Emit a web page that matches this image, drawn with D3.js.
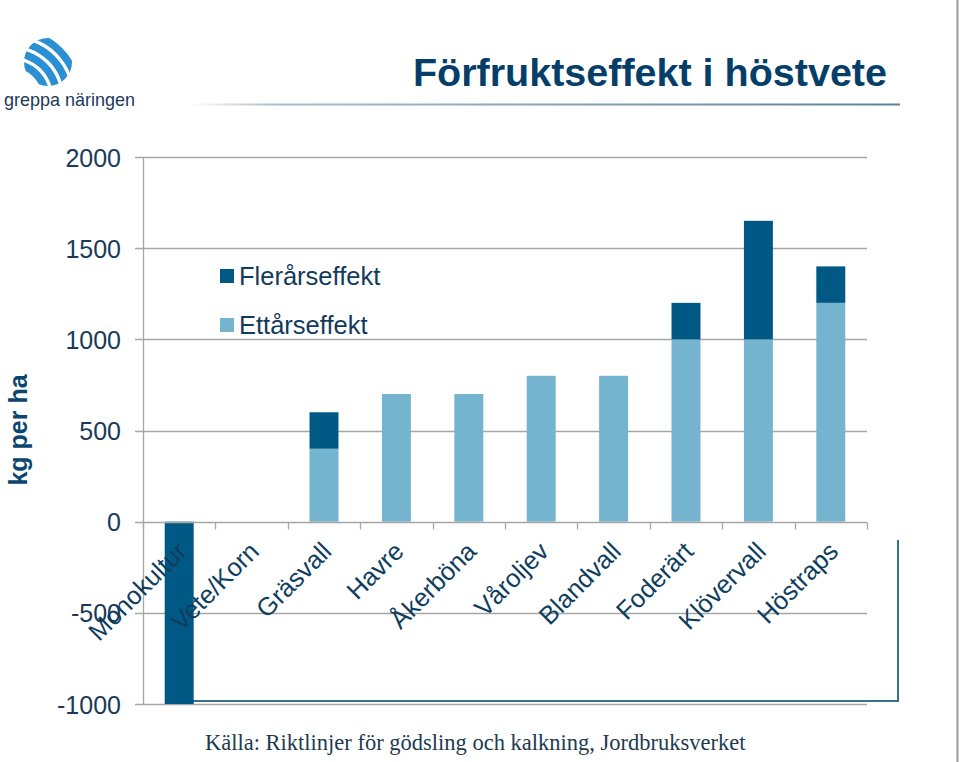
<!DOCTYPE html>
<html>
<head>
<meta charset="utf-8">
<script src="https://cdn.jsdelivr.net/npm/d3@7"></script>
<style>
  html, body { margin: 0; padding: 0; background: #ffffff; }
  svg { display: block; }
</style>
</head>
<body>
<svg id="chart" width="959" height="762"></svg>
<script>
// ---- data ----
const categories = ["Monokultur", "Vete/Korn", "Gräsvall", "Havre", "Åkerböna", "Våroljev", "Blandvall", "Foderärt", "Klövervall", "Höstraps"];
const ettarseffekt = [0, 0, 400, 700, 700, 800, 800, 1000, 1000, 1200];
const flerarseffekt = [-1000, 0, 200, 0, 0, 0, 0, 200, 650, 200];
const seriesNames = ["Ettårseffekt", "Flerårseffekt"];
const legendOrder = ["Flerårseffekt", "Ettårseffekt"];
const yTicks = [-1000, -500, 0, 500, 1000, 1500, 2000];
const yTickLabels = ["-1000", "-500", "0", "500", "1000", "1500", "2000"];
const titleText = "Förfruktseffekt i höstvete";
const yAxisTitle = "kg per ha";
const sourceText = "Källa: Riktlinjer för gödsling och kalkning, Jordbruksverket";
const logoText = "greppa näringen";

const colors = { "Ettårseffekt": "#74b4ce", "Flerårseffekt": "#005985" };

const svg = d3.select("#chart");

// ---- layout ----
const plotLeft = 143, plotRight = 867, plotTop = 157, plotBottom = 704;

const x = d3.scaleBand().domain(categories).range([plotLeft, plotRight]).paddingInner(0.6).paddingOuter(0.3);
const y = d3.scaleLinear().domain([-1000, 2000]).range([plotBottom, plotTop]);

const rows = categories.map((c, i) => ({ cat: c, "Ettårseffekt": ettarseffekt[i], "Flerårseffekt": flerarseffekt[i] }));
const stacked = d3.stack().keys(seriesNames).offset(d3.stackOffsetDiverging)(rows);

// ---- logo ----
const defs = svg.append("defs");
defs.append("clipPath").attr("id", "logoClip")
  .append("circle").attr("cx", 48).attr("cy", 62).attr("r", 24);
const grad = defs.append("linearGradient").attr("id", "ulGrad").attr("x1", "0").attr("x2", "1").attr("y1", "0").attr("y2", "0");
grad.append("stop").attr("offset", "0").attr("stop-color", "#6f8fa8").attr("stop-opacity", 0);
grad.append("stop").attr("offset", "0.12").attr("stop-color", "#6f8fa8").attr("stop-opacity", 0.6);
grad.append("stop").attr("offset", "1").attr("stop-color", "#5f8199").attr("stop-opacity", 1);

const logoG = svg.append("g").attr("clip-path", "url(#logoClip)");
const arcGen = d3.arc();
[34, 45, 56, 67].forEach(r => {
  logoG.append("path")
    .attr("transform", "translate(12,98)")
    .attr("d", arcGen({ innerRadius: r - 3.8, outerRadius: r + 3.8, startAngle: -0.1, endAngle: Math.PI / 2 + 0.1 }))
    .attr("fill", "#2a8fd3");
});
svg.append("text").attr("x", 4).attr("y", 106)
  .attr("font-family", "Liberation Sans, Arial, sans-serif").attr("font-size", 19)
  .attr("textLength", 131).attr("lengthAdjust", "spacingAndGlyphs")
  .attr("fill", "#1d3a5a").text(logoText);

// ---- title ----
svg.append("text").attr("x", 887).attr("y", 86).attr("text-anchor", "end")
  .attr("font-family", "Liberation Sans, Arial, sans-serif").attr("font-weight", "bold")
  .attr("font-size", 39.5).attr("fill", "#053f69").text(titleText);
svg.append("rect").attr("x", 190).attr("y", 103.5).attr("width", 710).attr("height", 2)
  .attr("fill", "url(#ulGrad)");

// ---- gridlines ----
const grid = svg.append("g");
yTicks.filter(t => t !== 0).forEach(t => {
  grid.append("line").attr("x1", plotLeft - 8).attr("x2", plotRight)
    .attr("y1", Math.round(y(t)) + 0.5).attr("y2", Math.round(y(t)) + 0.5)
    .attr("stroke", "#a6a6a6").attr("stroke-width", 1.3);
});

// ---- frame from slide (bottom-right) ----
svg.append("path")
  .attr("d", `M165,701 H898 V540`)
  .attr("fill", "none").attr("stroke", "#3c7182").attr("stroke-width", 2);

// ---- bars ----
const barsG = svg.append("g");
stacked.forEach(s => {
  barsG.selectAll(null).data(s).enter().append("rect")
    .attr("x", d => x(d.data.cat))
    .attr("width", x.bandwidth())
    .attr("y", d => y(Math.max(d[0], d[1])))
    .attr("height", d => Math.abs(y(d[0]) - y(d[1])))
    .attr("fill", colors[s.key]);
});

// ---- y axis line ----
svg.append("line").attr("x1", plotLeft + 0.5).attr("x2", plotLeft + 0.5)
  .attr("y1", plotTop).attr("y2", plotBottom)
  .attr("stroke", "#a6a6a6").attr("stroke-width", 1.3);

// ---- x axis (at 0) ----
const xAxisG = svg.append("g");
const y0 = Math.round(y(0)) + 0.5;
xAxisG.append("line").attr("x1", plotLeft - 8).attr("x2", plotRight)
  .attr("y1", y0).attr("y2", y0).attr("stroke", "#a6a6a6").attr("stroke-width", 1.3);
d3.range(categories.length + 1).forEach(i => {
  const bx = Math.round(plotLeft + i * (plotRight - plotLeft) / categories.length) + 0.5;
  xAxisG.append("line").attr("x1", bx).attr("x2", bx).attr("y1", y0).attr("y2", y0 + 7)
    .attr("stroke", "#a6a6a6").attr("stroke-width", 1.3);
});

// ---- y tick labels ----
const yAxis = d3.axisLeft(y).tickValues(yTicks)
  .tickFormat((d, i) => yTickLabels[yTicks.indexOf(d)])
  .tickSize(0).tickPadding(0);
const yG = svg.append("g").attr("transform", "translate(121,0)").call(yAxis);
yG.select(".domain").remove();
yG.selectAll("text")
  .attr("font-family", "Liberation Sans, Arial, sans-serif").attr("font-size", 25)
  .attr("fill", "#1a3a5a").attr("dy", "0.36em");

// ---- y axis title ----
svg.append("text").attr("transform", "translate(27,430) rotate(-90)")
  .attr("text-anchor", "middle")
  .attr("font-family", "Liberation Sans, Arial, sans-serif").attr("font-weight", "bold")
  .attr("font-size", 25).attr("fill", "#0b4670").text(yAxisTitle);

// ---- x category labels ----
const labelsG = svg.append("g");
categories.forEach(c => {
  const cx = x(c) + x.bandwidth() / 2 + 9;
  labelsG.append("text")
    .attr("transform", `translate(${cx},553) rotate(-45)`)
    .attr("text-anchor", "end")
    .attr("font-family", "Liberation Sans, Arial, sans-serif").attr("font-size", 25.5)
    .attr("fill", "#0e3d5e").text(c);
});

// ---- legend ----
const legG = svg.append("g");
legendOrder.forEach((k, i) => {
  const ly = 276 + i * 49;
  legG.append("rect").attr("x", 220).attr("y", ly - 7).attr("width", 14).attr("height", 14).attr("fill", colors[k]);
  legG.append("text").attr("x", 239).attr("y", ly).attr("dy", "0.35em")
    .attr("font-family", "Liberation Sans, Arial, sans-serif").attr("font-size", 25.5)
    .attr("fill", "#123a5c").text(k);
});

// ---- source ----
svg.append("text").attr("x", 205).attr("y", 750)
  .attr("font-family", "Liberation Serif, Times New Roman, serif").attr("font-size", 22.5)
  .attr("fill", "#1d3b50").text(sourceText);

// ---- slide right edge ----
svg.append("line").attr("x1", 957.5).attr("x2", 957.5).attr("y1", 0).attr("y2", 762)
  .attr("stroke", "#9a9a9a").attr("stroke-width", 2);
</script>
</body>
</html>
